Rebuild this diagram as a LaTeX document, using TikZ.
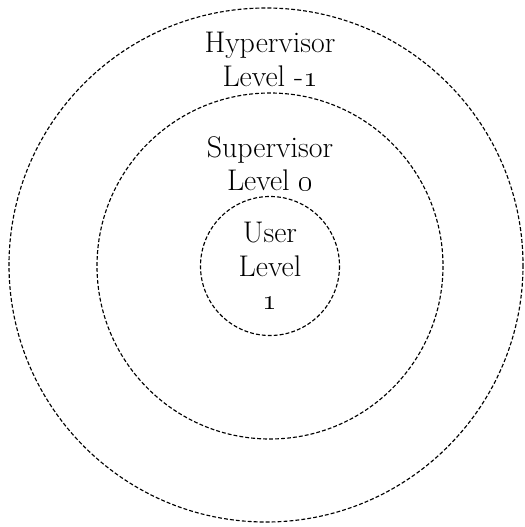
\documentclass[tikz,border=0pt]{standalone}

\tikzset{
    ring/.style={black, line width=0.65pt, dash pattern=on 2.2pt off 1.2pt},
    lvltext/.style={font=\fontsize{17}{19}\selectfont, align=center,
        inner sep=0pt, anchor=north}
}

\begin{document}
\begin{tikzpicture}[x=0.02cm, y=-0.02cm]

% --- frame (image size in px) ---
\useasboundingbox (0,0) rectangle (524,527);

% --- centres ---
\coordinate (ctr)   at (270,266);
\coordinate (octr)  at (266,265);

% --- privilege rings ---
\draw[ring] (octr) circle (257);
\draw[ring] (ctr)  circle (173);
\draw[ring] (ctr)  circle (69.5);

% --- ring labels ---
\node[lvltext] (hyper) at (270,32)  {Hypervisor\\Level -\oldstylenums{1}};
\node[lvltext] (super) at (270,136) {Supervisor\\Level \oldstylenums{0}};
\node[lvltext] (user)  at (270,222) {User\\Level\\\oldstylenums{1}};

\end{tikzpicture}
\end{document}
